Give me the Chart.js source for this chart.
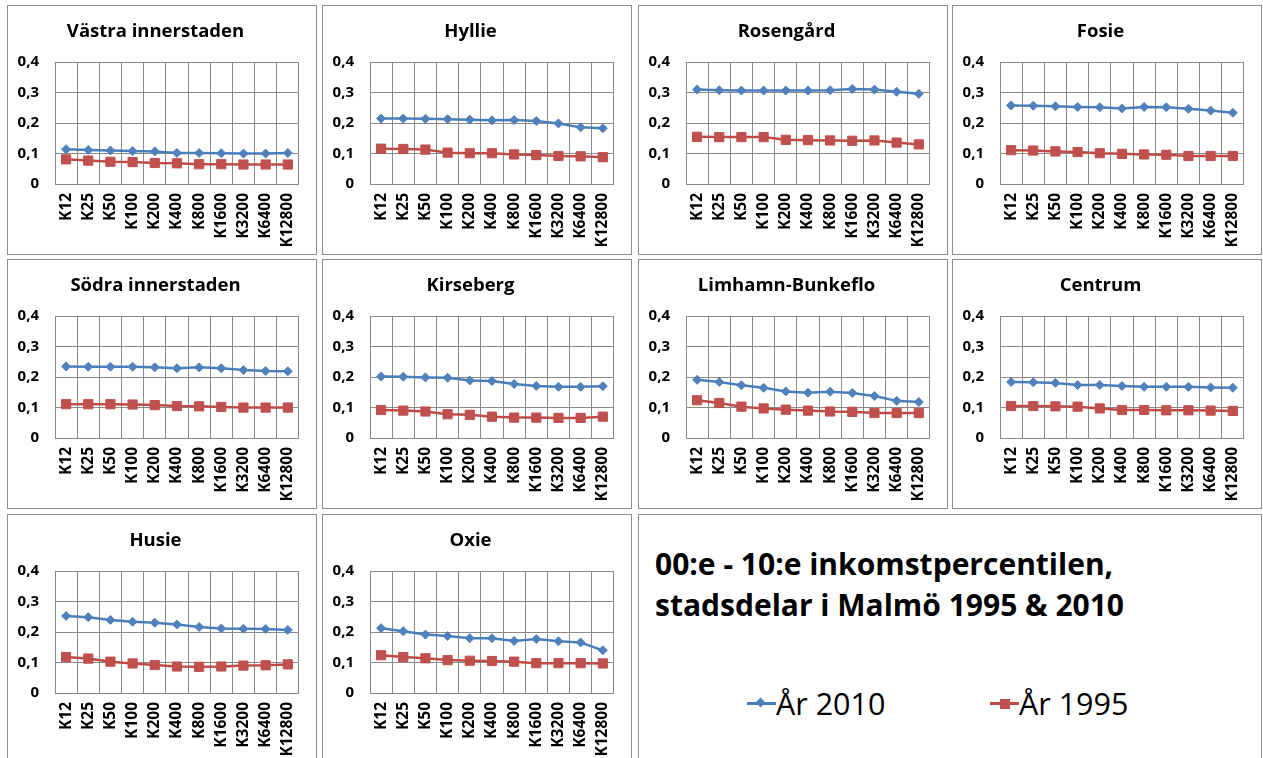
<!DOCTYPE html>
<html lang="sv">

<head>
  <meta charset="UTF-8">
  <script src="https://cdn.jsdelivr.net/npm/chart.js@4.4.1/dist/chart.umd.min.js"></script>
  <title>Inkomstpercentilen, stadsdelar i Malmö</title>
  <style>
    body {
      margin: 0;
      background: #fff;
      width: 1263px;
      height: 758px;
      overflow: hidden;
      position: relative;
      font-family: 'Open Sans', sans-serif;
    }

    .panel {
      position: absolute;
      box-sizing: border-box;
      border: 1px solid #8c8c8c;
      background: #fff;
    }

    .panel canvas {
      display: block;
    }

    .big-title {
      position: absolute;
      left: 16px;
      top: 28px;
      font-weight: bold;
      font-size: 30px;
      line-height: 41px;
      color: #000;
      white-space: nowrap;
    }

    .legend-item {
      position: absolute;
      top: 168px;
      height: 41px;
      line-height: 41px;
      font-size: 30.5px;
      color: #000;
      white-space: nowrap;
    }

    .sample {
      position: absolute;
      left: 0;
      top: 19px;
      width: 29px;
      height: 3px;
    }

    .sample i {
      position: absolute;
      display: block;
    }

    .legend-item span.txt {
      position: absolute;
      left: 29px;
      top: 0;
    }
  </style>
</head>

<body>
  <script>
    const kLabels = ['K12', 'K25', 'K50', 'K100', 'K200', 'K400', 'K800', 'K1600', 'K3200', 'K6400', 'K12800']

    const vastra2010 = [0.114, 0.112, 0.110, 0.108, 0.107, 0.102, 0.102, 0.101, 0.100, 0.100, 0.102]
    const vastra1995 = [0.081, 0.077, 0.073, 0.072, 0.069, 0.068, 0.065, 0.065, 0.064, 0.064, 0.064]
    const hyllie2010 = [0.215, 0.215, 0.214, 0.213, 0.211, 0.209, 0.210, 0.207, 0.199, 0.186, 0.183]
    const hyllie1995 = [0.116, 0.115, 0.113, 0.103, 0.101, 0.101, 0.097, 0.095, 0.092, 0.091, 0.088]
    const rosengard2010 = [0.310, 0.308, 0.307, 0.307, 0.307, 0.307, 0.308, 0.312, 0.310, 0.303, 0.296]
    const rosengard1995 = [0.155, 0.154, 0.154, 0.154, 0.145, 0.144, 0.143, 0.142, 0.143, 0.136, 0.130]
    const fosie2010 = [0.258, 0.257, 0.255, 0.253, 0.252, 0.248, 0.253, 0.252, 0.247, 0.241, 0.234]
    const fosie1995 = [0.111, 0.110, 0.107, 0.105, 0.101, 0.099, 0.097, 0.096, 0.092, 0.092, 0.092]
    const sodra2010 = [0.235, 0.234, 0.234, 0.234, 0.232, 0.229, 0.232, 0.229, 0.223, 0.220, 0.219]
    const sodra1995 = [0.111, 0.111, 0.111, 0.110, 0.108, 0.105, 0.104, 0.102, 0.100, 0.100, 0.100]
    const kirseberg2010 = [0.202, 0.201, 0.199, 0.198, 0.189, 0.187, 0.177, 0.171, 0.168, 0.168, 0.170]
    const kirseberg1995 = [0.092, 0.090, 0.087, 0.078, 0.076, 0.070, 0.067, 0.067, 0.066, 0.066, 0.070]
    const limhamn2010 = [0.191, 0.184, 0.173, 0.165, 0.153, 0.149, 0.152, 0.148, 0.138, 0.122, 0.118]
    const limhamn1995 = [0.124, 0.115, 0.103, 0.097, 0.093, 0.090, 0.087, 0.086, 0.082, 0.082, 0.082]
    const centrum2010 = [0.184, 0.183, 0.181, 0.174, 0.174, 0.171, 0.168, 0.168, 0.168, 0.166, 0.165]
    const centrum1995 = [0.105, 0.105, 0.104, 0.103, 0.097, 0.092, 0.092, 0.091, 0.091, 0.090, 0.089]
    const husie2010 = [0.253, 0.249, 0.240, 0.234, 0.231, 0.225, 0.217, 0.212, 0.211, 0.210, 0.207]
    const husie1995 = [0.118, 0.113, 0.103, 0.097, 0.092, 0.087, 0.086, 0.087, 0.090, 0.091, 0.094]
    const oxie2010 = [0.213, 0.203, 0.192, 0.187, 0.180, 0.180, 0.171, 0.177, 0.170, 0.166, 0.140]
    const oxie1995 = [0.124, 0.118, 0.114, 0.108, 0.106, 0.105, 0.103, 0.098, 0.098, 0.098, 0.097]

    const panels = [
      { name: 'Västra innerstaden', y2010: vastra2010, y1995: vastra1995 },
      { name: 'Hyllie', y2010: hyllie2010, y1995: hyllie1995 },
      { name: 'Rosengård', y2010: rosengard2010, y1995: rosengard1995 },
      { name: 'Fosie', y2010: fosie2010, y1995: fosie1995 },
      { name: 'Södra innerstaden', y2010: sodra2010, y1995: sodra1995 },
      { name: 'Kirseberg', y2010: kirseberg2010, y1995: kirseberg1995 },
      { name: 'Limhamn-Bunkeflo', y2010: limhamn2010, y1995: limhamn1995 },
      { name: 'Centrum', y2010: centrum2010, y1995: centrum1995 },
      { name: 'Husie', y2010: husie2010, y1995: husie1995 },
      { name: 'Oxie', y2010: oxie2010, y1995: oxie1995 }
    ]

    const colLeft = [7, 322, 638, 952]
    const rowTop = [5, 259, 514]
    const panelW = 310
    const panelH = 250

    const blueLine = '#4a7ebb'
    const blueMark = '#4f81bd'
    const redLine = '#be4b48'
    const redMark = '#c0504d'
    const gridColor = '#8a8a8a'

    function fmt(v) {
      return v === 0 ? '0' : v.toFixed(1).replace('.', ',')
    }

    panels.forEach((p, i) => {
      const div = document.createElement('div')
      div.className = 'panel'
      div.style.left = colLeft[i % 4] + 'px'
      div.style.top = rowTop[Math.floor(i / 4)] + 'px'
      div.style.width = panelW + 'px'
      div.style.height = panelH + 'px'
      const canvas = document.createElement('canvas')
      canvas.width = panelW - 2
      canvas.height = panelH - 2
      div.appendChild(canvas)
      document.body.appendChild(div)

      new Chart(canvas, {
        type: 'line',
        data: {
          labels: kLabels,
          datasets: [
            {
              label: 'År 2010',
              data: p.y2010,
              borderColor: blueLine,
              backgroundColor: blueMark,
              pointBorderColor: blueMark,
              pointStyle: 'rectRot',
              pointRadius: 4.5,
              pointBorderWidth: 1,
              borderWidth: 2.5,
              tension: 0
            },
            {
              label: 'År 1995',
              data: p.y1995,
              borderColor: redLine,
              backgroundColor: redMark,
              pointBorderColor: redMark,
              pointStyle: 'rect',
              pointRadius: 6.5,
              pointBorderWidth: 1,
              borderWidth: 2.5,
              tension: 0
            }
          ]
        },
        options: {
          responsive: false,
          animation: false,
          events: [],
          layout: { padding: { right: 13, top: 0, bottom: 0, left: 0 } },
          plugins: {
            legend: { display: false },
            tooltip: { enabled: false },
            title: {
              display: true,
              text: p.name,
              color: '#000',
              font: { family: 'Open Sans', size: 18.5, weight: 'bold', lineHeight: 1.2 },
              padding: { top: 15, bottom: 19 }
            }
          },
          scales: {
            x: {
              offset: true,
              grid: { offset: true, color: gridColor, drawTicks: false },
              border: { color: gridColor },
              ticks: {
                minRotation: 90,
                maxRotation: 90,
                autoSkip: false,
                padding: 9,
                color: '#000',
                font: { family: 'Open Sans', size: 15.5, weight: 'bold' }
              },
              afterFit: (scale) => { scale.height = 70 }
            },
            y: {
              min: 0,
              max: 0.4,
              grid: { color: gridColor, drawTicks: false },
              border: { color: gridColor },
              ticks: {
                stepSize: 0.1,
                padding: 16,
                color: '#000',
                font: { family: 'Open Sans', size: 15, weight: 'bold' },
                callback: (v) => fmt(v)
              },
              afterFit: (scale) => { scale.width = 47 }
            }
          }
        }
      })
    })

    // title + legend box
    const box = document.createElement('div')
    box.className = 'panel'
    box.style.left = '638px'
    box.style.top = '514px'
    box.style.width = '624px'
    box.style.height = '250px'
    box.innerHTML =
      '<div class="big-title">00:e - 10:e inkomstpercentilen,<br>stadsdelar i Malmö 1995 &amp; 2010</div>' +
      '<div class="legend-item" style="left:108px">' +
      '<span class="sample" style="background:' + blueLine + '">' +
      '<i style="left:10px;top:-3.5px;width:7px;height:7px;background:' + blueMark + ';transform:rotate(45deg)"></i></span>' +
      '<span class="txt">År 2010</span></div>' +
      '<div class="legend-item" style="left:351px">' +
      '<span class="sample" style="background:' + redLine + '">' +
      '<i style="left:10px;top:-3.5px;width:10px;height:10px;background:' + redMark + '"></i></span>' +
      '<span class="txt">År 1995</span></div>'
    document.body.appendChild(box)
  </script>
</body>

</html>
